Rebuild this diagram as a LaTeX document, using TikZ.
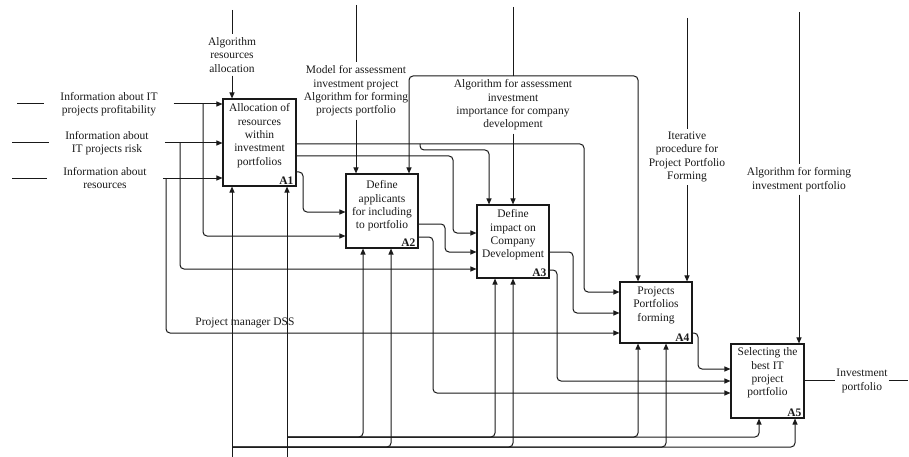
\documentclass[tikz,border=0pt]{standalone}
\usepackage{fontspec}
\setmainfont{Liberation Serif}
\usetikzlibrary{arrows.meta,positioning}

\begin{document}
\begin{tikzpicture}[x=1pt,y=-1pt,
  every node/.style={font=\fontsize{11.5}{13.4}\selectfont},
  fbox/.style={draw=cb,fill=white,line width=1.1pt,inner sep=0pt},
  ftext/.style={align=center,inner sep=0pt,text=ct},
  fnum/.style={anchor=south east,inner xsep=3pt,inner ysep=2pt,text=ct,font=\fontsize{11.5}{13.4}\selectfont\bfseries},
  flab/.style={align=center,inner xsep=2pt,inner ysep=3pt,text=ct},
  fin/.style={align=center,inner xsep=16pt,inner ysep=1pt,text=ct},
  wire/.style={draw=cl,line width=1pt,rounded corners=4pt},
  arr/.style={wire,-{Triangle[length=6pt,width=5pt]}}]
\definecolor{cl}{rgb}{0.1,0.1,0.1}
\definecolor{cb}{rgb}{0.1,0.1,0.1}
\definecolor{ct}{rgb}{0.1,0.1,0.1}
\useasboundingbox (0,0) rectangle (909,457);
%
\node[fbox,minimum width=73pt,minimum height=87pt] (a1) at (259.5,142.5) {};
\node[fbox,minimum width=72pt,minimum height=74pt] (a2) at (382,211) {};
\node[fbox,minimum width=72pt,minimum height=73pt] (a3) at (513,241.5) {};
\node[fbox,minimum width=72pt,minimum height=61pt] (a4) at (656,312.5) {};
\node[fbox,minimum width=73pt,minimum height=74pt] (a5) at (767.5,381) {};
\node[ftext,below=5pt of a1.north] (a1t) {Allocation of\\resources\\within\\investment\\portfolios};
\node[ftext,below=7pt of a2.north] (a2t) {Define\\applicants\\for including\\to portfolio};
\node[ftext,below=5pt of a3.north] (a3t) {Define\\impact on\\Company\\Development};
\node[ftext,below=5pt of a4.north] (a4t) {Projects\\Portfolios\\forming};
\node[ftext,below=4pt of a5.north] (a5t) {Selecting the\\best IT\\project\\portfolio};
\node[fnum] (a1n) at (a1.south east) {A1};
\node[fnum] (a2n) at (a2.south east) {A2};
\node[fnum] (a3n) at (a3.south east) {A3};
\node[fnum] (a4n) at (a4.south east) {A4};
\node[fnum] (a5n) at (a5.south east) {A5};
%
% inputs
\coordinate (i1) at (17,104);
\coordinate (i2) at (12,143);
\coordinate (i3) at (12,178);
\node[fin] (li1) at (109,104) {Information about IT\\projects profitability};
\node[fin] (li2) at (107,143) {Information about\\IT projects risk};
\node[fin] (li3) at (105,178) {Information about\\resources};
\draw[wire] (i1) -- (li1.west);
\draw[wire] (i2) -- (li2.west);
\draw[wire] (i3) -- (li3.west);
\draw[arr] (li1.east) -- (li1.east -| a1.west);
\draw[arr] (li2.east) -- (li2.east -| a1.west);
\draw[arr] (li3.east) -- (li3.east -| a1.west);
\coordinate (b1) at (203,104);
\coordinate (k1) at (203,236);
\coordinate (b2) at (180,143);
\coordinate (k2) at (180,269);
\coordinate (b3) at (166,178);
\coordinate (k3) at (166,333);
\draw[arr] (b1) -- (k1) -- (k1 -| a2.west);
\draw[arr] (b2) -- (k2) -- (k2 -| a3.west);
\draw[arr] (b3) -- (k3) -- (k3 -| a4.west);
%
% controls
\coordinate (c1) at (232,10);
\coordinate (c2) at (356,5);
\coordinate (c3) at (513,7);
\coordinate (c4) at (687,18);
\coordinate (c5) at (799,12);
\coordinate (j1) at (513,76);
\node[flab] (lc1) at (232,55) {Algorithm\\resources\\allocation};
\node[flab] (lc2) at (356,91) {Model for assessment\\investment project\\Algorithm for forming\\projects portfolio};
\node[flab] (lc3) at (513,105) {Algorithm for assessment\\investment\\importance for company\\development};
\node[flab] (lc4) at (687,157) {Iterative\\procedure for\\Project Portfolio\\Forming};
\node[flab] (lc5) at (799,179.5) {Algorithm for forming\\investment portfolio};
\draw[wire] (c1) -- (lc1.north);
\draw[wire] (c2) -- (lc2.north);
\draw[wire] (c3) -- (j1);
\draw[wire] (c4) -- (lc4.north);
\draw[wire] (c5) -- (lc5.north);
\draw[arr] (lc1.south) -- (lc1.south |- a1.north);
\draw[arr] (lc2.south) -- (lc2.south |- a2.north);
\draw[arr] (lc3.south) -- (lc3.south |- a3.north);
\draw[arr] (lc4.south) -- (lc4.south |- a4.north);
\draw[arr] (lc5.south) -- (lc5.south |- a5.north);
\coordinate (k4) at (409,76);
\coordinate (k5) at (638,76);
\draw[arr] (j1) -- (k4) -- (k4 |- a2.north);
\draw[arr] (j1) -- (k5) -- (k5 |- a4.north);
%
% outputs
\coordinate (k6) at (584,144);
\coordinate (k7) at (584,292);
\coordinate (b4) at (420,144);
\coordinate (k8) at (489,150);
\coordinate (k9) at (453,156);
\coordinate (k10) at (453,233);
\coordinate (k11) at (303,172);
\coordinate (k12) at (303,212);
\coordinate (k13) at (445,224);
\coordinate (k14) at (445,252);
\coordinate (k15) at (433,237);
\coordinate (k16) at (433,393);
\coordinate (k17) at (573,252);
\coordinate (k18) at (573,313);
\coordinate (k19) at (557,270);
\coordinate (k20) at (557,381);
\coordinate (k21) at (698,333);
\coordinate (k22) at (698,369);
\draw[arr] (k6 -| a1.east) -- (k6) -- (k7) -- (k7 -| a4.west);
\draw[arr] (b4) |- (k8) -- (k8 |- a3.north);
\draw[arr] (k9 -| a1.east) -- (k9) -- (k10) -- (k10 -| a3.west);
\draw[arr] (k11 -| a1.east) -- (k11) -- (k12) -- (k12 -| a2.west);
\draw[arr] (k13 -| a2.east) -- (k13) -- (k14) -- (k14 -| a3.west);
\draw[arr] (k15 -| a2.east) -- (k15) -- (k16) -- (k16 -| a5.west);
\draw[arr] (k17 -| a3.east) -- (k17) -- (k18) -- (k18 -| a4.west);
\draw[arr] (k19 -| a3.east) -- (k19) -- (k20) -- (k20 -| a5.west);
\draw[arr] (k21 -| a4.east) -- (k21) -- (k22) -- (k22 -| a5.west);
\node[inner xsep=1pt,inner ysep=0pt,align=center,text=ct] (lo1) at (862,381) {Investment\\portfolio};
\coordinate (e1) at (908,380);
\draw[wire] (a5.east |- e1) -- (lo1.west |- e1);
\draw[wire] (lo1.east |- e1) -- (e1);
%
% mechanisms
\coordinate (m1) at (287,457);
\coordinate (m2) at (232,457);
\coordinate (b5) at (287,437);
\coordinate (b6) at (232,447);
\draw[arr] (m1) -- (m1 |- a1.south);
\draw[arr] (m2) -- (m2 |- a1.south);
\coordinate (k23) at (363,437);
\coordinate (k24) at (495,437);
\coordinate (k25) at (638,437);
\coordinate (k26) at (759,437);
\coordinate (k27) at (391,447);
\coordinate (k28) at (513,447);
\coordinate (k29) at (666,447);
\coordinate (k30) at (795,447);
\draw[arr] (b5) -- (k23) -- (k23 |- a2.south);
\draw[arr] (b5) -- (k24) -- (k24 |- a3.south);
\draw[arr] (b5) -- (k25) -- (k25 |- a4.south);
\draw[arr] (b5) -- (k26) -- (k26 |- a5.south);
\draw[arr] (b6) -- (k27) -- (k27 |- a2.south);
\draw[arr] (b6) -- (k28) -- (k28 |- a3.south);
\draw[arr] (b6) -- (k29) -- (k29 |- a4.south);
\draw[arr] (b6) -- (k30) -- (k30 |- a5.south);
\node[text=ct,inner sep=1pt] (lm1) at (245,323) {Project manager DSS};
%
\end{tikzpicture}
\end{document}
